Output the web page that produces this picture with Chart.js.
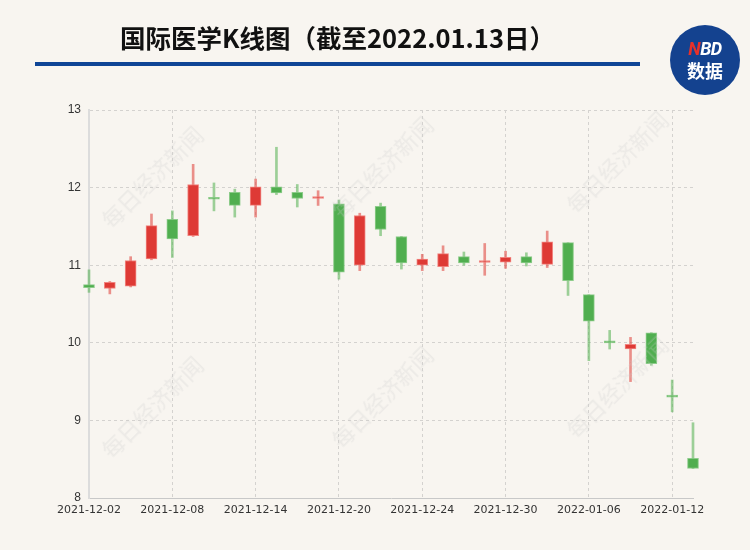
<!DOCTYPE html>
<html><head><meta charset="utf-8">
<script src="https://cdn.jsdelivr.net/npm/chart.js@4/dist/chart.umd.min.js"></script>
<style>
html,body{margin:0;padding:0;background:#f8f5f0;}
#wrap{position:relative;width:750px;height:550px;overflow:hidden;background:#f8f5f0;}
#title{position:absolute;left:35px;width:605px;top:20px;text-align:center;font-family:"Noto Sans CJK SC","Noto Sans",sans-serif;font-weight:bold;font-size:25.5px;color:#111;line-height:34px;}
#rule{position:absolute;left:35px;top:62px;width:605px;height:4px;background:#0f4596;}
#logo{position:absolute;left:670px;top:25px;width:70px;height:70px;border-radius:50%;background:#14428f;color:#fff;text-align:center;font-family:"Noto Sans CJK SC","Noto Sans",sans-serif;font-weight:bold;}
#logo .n{position:absolute;left:0;right:0;top:14px;font-size:18px;line-height:20px;font-family:Roboto,"Noto Sans",sans-serif;font-style:italic;letter-spacing:-0.5px;}
#logo .n span{color:#e8312a;}
#logo .s{position:absolute;left:0;right:0;top:34px;font-size:18px;line-height:22px;}
canvas{position:absolute;left:0;top:0;}
.wm{position:absolute;font-family:"Noto Sans CJK SC",sans-serif;font-size:22px;color:rgba(205,205,205,0.28);transform:rotate(-45deg);white-space:nowrap;pointer-events:none;}
</style></head>
<body>
<div id="wrap">
<canvas id="c" width="750" height="550"></canvas>
<div id="title">国际医学K线图（截至2022.01.13日）</div>
<div id="rule"></div>
<div id="logo"><div class="n"><span>N</span>BD</div><div class="s">数据</div></div>
<div class="wm" style="left:85px;top:160px;">每日经济新闻</div>
<div class="wm" style="left:315px;top:150px;">每日经济新闻</div>
<div class="wm" style="left:550px;top:145px;">每日经济新闻</div>
<div class="wm" style="left:85px;top:390px;">每日经济新闻</div>
<div class="wm" style="left:315px;top:380px;">每日经济新闻</div>
<div class="wm" style="left:550px;top:370px;">每日经济新闻</div>
</div>
<script>
const dates = ["2021-12-02","2021-12-03","2021-12-06","2021-12-07","2021-12-08","2021-12-09","2021-12-10","2021-12-13","2021-12-14","2021-12-15","2021-12-16","2021-12-17","2021-12-20","2021-12-21","2021-12-22","2021-12-23","2021-12-24","2021-12-27","2021-12-28","2021-12-29","2021-12-30","2021-12-31","2022-01-04","2022-01-05","2022-01-06","2022-01-07","2022-01-10","2022-01-11","2022-01-12","2022-01-13"];
const opens  = [10.75,10.70,10.73,11.08,11.59,11.38,11.86,11.94,11.77,12.01,11.94,11.86,11.79,11.00,11.76,11.37,11.00,10.98,11.11,11.035,11.04,11.11,11.01,11.29,10.62,10.005,9.92,10.13,9.31,8.51];
const closes = [10.71,10.78,11.06,11.51,11.34,12.04,11.85,11.77,12.01,11.93,11.86,11.87,10.91,11.64,11.46,11.03,11.08,11.15,11.03,11.04,11.10,11.03,11.30,10.80,10.28,10.00,9.98,9.73,9.30,8.38];
const highs  = [10.94,10.79,11.11,11.66,11.70,12.30,12.06,11.98,12.11,12.52,12.04,11.96,11.84,11.67,11.80,11.37,11.14,11.25,11.17,11.28,11.18,11.16,11.44,11.29,10.62,10.16,10.07,10.13,9.52,8.97];
const lows   = [10.65,10.63,10.72,11.07,11.10,11.37,11.70,11.62,11.62,11.91,11.75,11.77,10.82,10.93,11.38,10.95,10.93,10.93,11.00,10.87,10.96,10.99,10.97,10.61,9.77,9.92,9.50,9.71,9.11,8.38];
const yTicks = [8,9,10,11,12,13];

const RED = '#de3a35', GREEN = '#50ae4f';
const REDW = 'rgba(222,58,53,0.55)', GREENW = 'rgba(80,174,79,0.55)';
const up = i => closes[i] >= opens[i];

new Chart(document.getElementById('c'), {
  type: 'bar',
  data: {
    labels: dates,
    datasets: [
      {
        label: 'body',
        data: opens.map((o, i) => [o, closes[i]]),
        backgroundColor: ctx => up(ctx.dataIndex) ? RED : GREEN,
        borderColor: ctx => up(ctx.dataIndex) ? 'rgba(240,120,115,0.9)' : 'rgba(130,200,128,0.9)',
        borderWidth: 1,
        borderSkipped: false,
        barThickness: 11,
        minBarLength: 2,
        grouped: false,
        clip: false,
        order: 1
      },
      {
        label: 'wick',
        data: lows.map((l, i) => [l, highs[i]]),
        backgroundColor: ctx => up(ctx.dataIndex) ? REDW : GREENW,
        borderWidth: 0,
        barThickness: 2,
        grouped: false,
        clip: false,
        order: 2
      }
    ]
  },
  options: {
    responsive: false,
    animation: false,
    layout: { padding: { top: 110, right: 57, bottom: 22, left: 0 } },
    plugins: { legend: { display: false }, tooltip: { enabled: false } },
    scales: {
      x: {
        type: 'category',
        offset: false,
        grid: {
          offset: false,
          drawTicks: false,
          color: ctx => (ctx.index % 4 === 0 && ctx.index !== 0) ? '#d4d2cf' : 'transparent',
          lineWidth: 1
        },
        border: { display: true, color: '#c8c8c8', width: 1, dash: [3, 3] },
        ticks: {
          autoSkip: false,
          maxRotation: 0,
          padding: 6,
          color: '#333',
          font: { family: '"DejaVu Sans", sans-serif', size: 11 },
          callback: (v, i) => i % 4 === 0 ? dates[i] : ''
        },
        afterFit: s => { s.height = 30; }
      },
      y: {
        min: yTicks[0],
        max: yTicks[yTicks.length - 1],
        afterBuildTicks: s => { s.ticks = yTicks.map(v => ({ value: v })); },
        grid: {
          drawTicks: false,
          color: ctx => ctx.index === 0 ? 'transparent' : '#d4d2cf',
          lineWidth: 1
        },
        border: { display: true, color: '#dcdcdc', width: 2, dash: [3, 3] },
        ticks: {
          padding: 8,
          color: '#333',
          font: { family: 'Liberation Sans, Arial, sans-serif', size: 12 }
        },
        afterFit: s => { s.width = 89; }
      }
    }
  }
});
</script>
</body></html>
